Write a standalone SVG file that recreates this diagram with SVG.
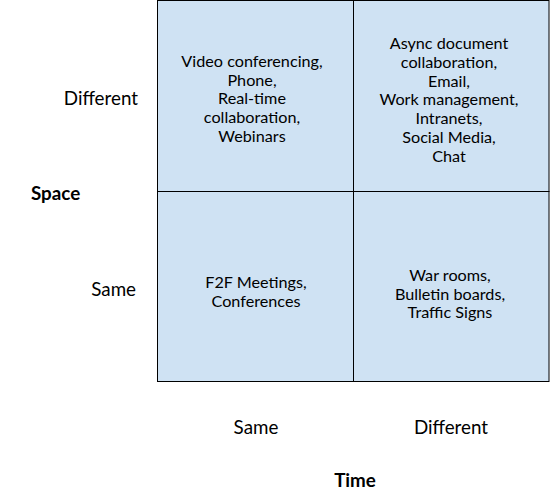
<svg xmlns="http://www.w3.org/2000/svg" width="550" height="496" viewBox="0 0 550 496">
<style>
.cell{fill:#cfe2f3;stroke:#000;stroke-width:1}
text{font-family:Lato,"Open Sans","Liberation Sans",sans-serif;font-size:16.2px;fill:#000}
.c{text-anchor:middle}
.r{text-anchor:end}
.b{font-weight:bold}
.l{font-size:18.8px}
</style>
<rect width="550" height="496" fill="#fff"/>
<g id="cell-diff-same">
<rect class="cell" x="157.5" y="0.5" width="196" height="191"/>
<text class="c" x="252"><tspan x="252" y="67">Video conferencing,</tspan><tspan x="252" y="85.7">Phone,</tspan><tspan x="252" y="104.4">Real-time</tspan><tspan x="252" y="123.1">collaboration,</tspan><tspan x="252" y="141.8">Webinars</tspan></text>
</g>
<g id="cell-diff-diff">
<rect class="cell" x="353.5" y="0.5" width="195.5" height="191"/>
<text class="c"><tspan x="449" y="49">Async document</tspan><tspan x="449" y="67.8">collaboration,</tspan><tspan x="449" y="86.6">Email,</tspan><tspan x="449" y="105.4">Work management,</tspan><tspan x="449" y="124.2">Intranets,</tspan><tspan x="449" y="143">Social Media,</tspan><tspan x="449" y="161.8">Chat</tspan></text>
</g>
<g id="cell-same-same">
<rect class="cell" x="157.5" y="191.5" width="196" height="190"/>
<text class="c"><tspan x="256" y="288">F2F Meetings,</tspan><tspan x="256" y="306.7">Conferences</tspan></text>
</g>
<g id="cell-same-diff">
<rect class="cell" x="353.5" y="191.5" width="195.5" height="190"/>
<text class="c"><tspan x="450" y="281">War rooms,</tspan><tspan x="450" y="299.7">Bulletin boards,</tspan><tspan x="450" y="318.4">Traffic Signs</tspan></text>
</g>
<g id="labels">
<text class="r l" x="138" y="105">Different</text>
<text class="r l" x="136" y="296">Same</text>
<text class="b l" x="31" y="200">Space</text>
<text class="c l" x="256" y="434">Same</text>
<text class="c l" x="451" y="434">Different</text>
<text class="c b l" x="355" y="487">Time</text>
</g>
</svg>
